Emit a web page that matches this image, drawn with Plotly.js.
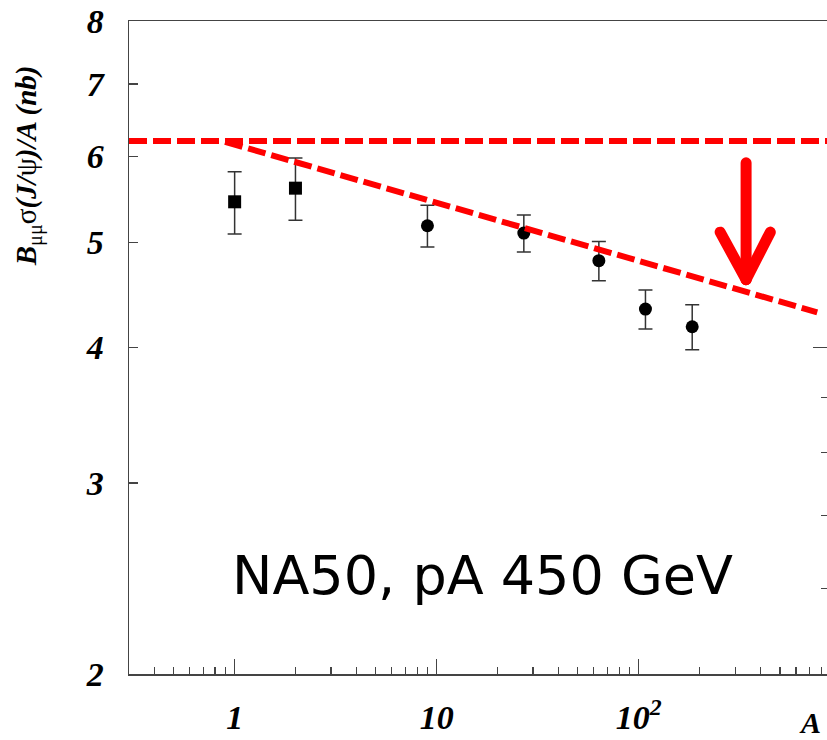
<!DOCTYPE html>
<html>
<head>
<meta charset="utf-8">
<script src="https://cdn.plot.ly/plotly-3.0.1.min.js"></script>
<style>
html,body{margin:0;padding:0;background:#fff;overflow:hidden;}
#chart{width:827px;height:740px;}
.shapelayer path{stroke-linecap:round;}
</style>
</head>
<body>
<div id="chart"></div>
<script>
// Data: nuclear mass number A and B_mumu sigma(J/psi)/A (nb)
var squareA = [1, 2];
var squareSigma = [5.45, 5.61];
var squareErr = [0.36, 0.37];

var circleA = [9, 27, 63.5, 108, 184];
var circleSigma = [5.18, 5.10, 4.81, 4.34, 4.18];
var circleErr = [0.23, 0.20, 0.20, 0.18, 0.20];

// red dashed reference lines
var flatA = [0.3, 855];
var flatSigma = [6.2, 6.2];
var fitA = [0.897, 765];
var fitSigma = [6.19, 4.31];

// arrow (A, sigma)
var arrowA = [340, 253, 448];
var arrowSigma = [5.92, 4.62, 5.11];

// ticks
var xTickVals = [1, 10, 100];
var xTickText = ["1", "10", "10<sup>2</sup>"];
var xMinorVals = [0.4,0.5,0.6,0.7,0.8,0.9, 2,3,4,5,6,7,8,9, 20,30,40,50,60,70,80,90, 200,300,400,500,600,700,800];
var yTickVals = [2, 3, 4, 5, 6, 7, 8];
var yTickText = ["2", "3", "4", "5", "6", "7", "8"];
var y2TickVals = [4];
var y2MinorVals = [2.4, 2.8, 3.2, 3.6];

var tickFont = {family: "Liberation Serif, Times New Roman, serif", size: 34, color: "#000", weight: "bold", style: "italic"};

var traces = [
  {
    x: squareA, y: squareSigma, type: "scatter", mode: "markers",
    marker: {symbol: "square", size: 13, color: "#000"},
    error_y: {type: "data", array: squareErr, visible: true, color: "#333", thickness: 1.5, width: 7},
    hoverinfo: "x+y"
  },
  {
    x: circleA, y: circleSigma, type: "scatter", mode: "markers",
    marker: {symbol: "circle", size: 13, color: "#000"},
    error_y: {type: "data", array: circleErr, visible: true, color: "#333", thickness: 1.5, width: 7},
    hoverinfo: "x+y"
  },
  {
    x: flatA, y: flatSigma, type: "scatter", mode: "lines",
    line: {color: "#ff0000", width: 6, dash: "18px,6px"}, hoverinfo: "skip"
  },
  {
    x: fitA, y: fitSigma, type: "scatter", mode: "lines",
    line: {color: "#ff0000", width: 6, dash: "18px,6px"}, hoverinfo: "skip"
  },
  {
    x: flatA, y: flatSigma, type: "scatter", mode: "lines", yaxis: "y2",
    line: {color: "rgba(0,0,0,0)", width: 0}, hoverinfo: "skip"
  }
];

var yRange = [Math.log10(2), Math.log10(8)];

var layout = {
  width: 827, height: 740,
  margin: {l: 129, r: 0, t: 21, b: 66, pad: 0},
  paper_bgcolor: "#fff", plot_bgcolor: "#fff",
  showlegend: false,
  xaxis: {
    type: "log", range: [Math.log10(0.3), Math.log10(855)],
    tickmode: "array", tickvals: xTickVals, ticktext: xTickText,
    ticks: "inside", ticklen: 15, tickwidth: 1.2, tickcolor: "#444",
    minor: {tickmode: "array", tickvals: xMinorVals, ticks: "inside", ticklen: 7, tickwidth: 1.2, tickcolor: "#444", showgrid: false},
    showline: true, linecolor: "#444", linewidth: 1.5, mirror: true,
    showgrid: false, zeroline: false,
    tickfont: tickFont, ticklabelstandoff: 13
  },
  yaxis: {
    type: "log", range: yRange,
    tickmode: "array", tickvals: yTickVals, ticktext: yTickText,
    ticks: "inside", ticklen: 9, tickwidth: 1.2, tickcolor: "#444",
    showline: true, linecolor: "#444", linewidth: 1.5,
    showgrid: false, zeroline: false,
    tickfont: tickFont, ticklabelstandoff: 17
  },
  yaxis2: {
    type: "log", range: yRange, overlaying: "y", side: "right", anchor: "x",
    tickmode: "array", tickvals: y2TickVals, showticklabels: false,
    ticks: "inside", ticklen: 14, tickwidth: 1.2, tickcolor: "#444",
    minor: {tickmode: "array", tickvals: y2MinorVals, ticks: "inside", ticklen: 6, tickwidth: 1.2, tickcolor: "#444", showgrid: false},
    showline: false, showgrid: false, zeroline: false
  },
  shapes: [
    {type: "line", xref: "x", yref: "y", x0: arrowA[0], x1: arrowA[0], y0: arrowSigma[0], y1: arrowSigma[1], line: {color: "#ff0000", width: 11}, layer: "above"},
    {type: "line", xref: "x", yref: "y", x0: arrowA[1], x1: arrowA[0], y0: arrowSigma[2], y1: arrowSigma[1], line: {color: "#ff0000", width: 11}, layer: "above"},
    {type: "line", xref: "x", yref: "y", x0: arrowA[2], x1: arrowA[0], y0: arrowSigma[2], y1: arrowSigma[1], line: {color: "#ff0000", width: 11}, layer: "above"}
  ],
  annotations: [
    {
      text: "NA50, pA 450 GeV", xref: "paper", yref: "paper", x: 0.507, y: 0.151,
      xanchor: "center", yanchor: "middle", showarrow: false,
      font: {family: "DejaVu Sans, Verdana, sans-serif", size: 54, color: "#000"}
    },
    {
      text: "B<sub><span style=\"font-style:normal;font-weight:normal\">μμ</span></sub><span style=\"font-style:normal;font-weight:normal\">σ</span>(J/<span style=\"font-style:normal;font-weight:normal\">ψ</span>)/A (nb)",
      xref: "paper", yref: "paper", x: -0.1447, y: 0.779,
      xanchor: "center", yanchor: "middle", showarrow: false, textangle: -90,
      font: {family: "Liberation Serif, Times New Roman, serif", size: 29, color: "#000", weight: "bold", style: "italic"}
    },
    {
      text: "A", xref: "paper", yref: "paper", x: 0.975, y: -0.074,
      xanchor: "center", yanchor: "middle", showarrow: false,
      font: {family: "Liberation Serif, Times New Roman, serif", size: 30, color: "#000", weight: "bold", style: "italic"}
    }
  ]
};

Plotly.newPlot("chart", traces, layout, {displayModeBar: false, staticPlot: true});
</script>
</body>
</html>
